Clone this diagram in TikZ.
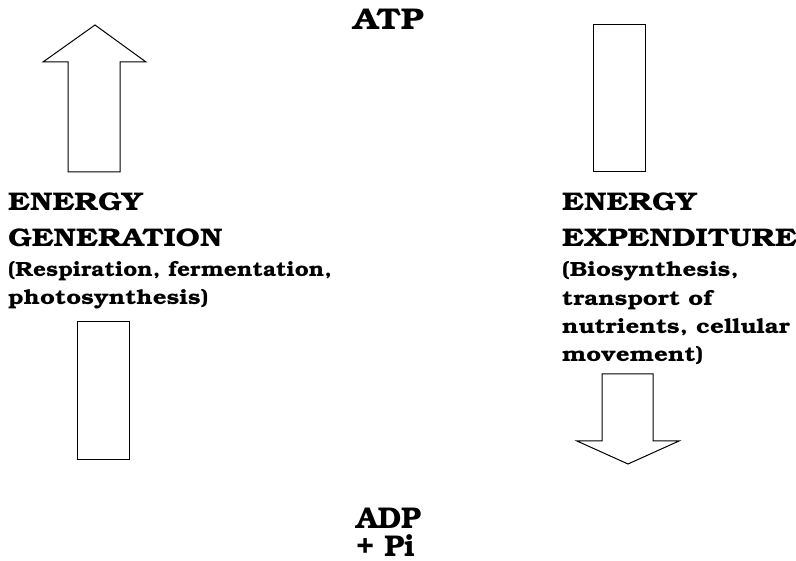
\documentclass[tikz,border=0pt]{standalone}
\usepackage[T1]{fontenc}
\usepackage{bookman}
\usepackage{graphicx}
\newcommand{\wideBig}[1]{\scalebox{1.19}[1]{#1}}
\newcommand{\wideSmall}[1]{\scalebox{1.18}[1]{#1}}
\newcommand{\wideNarrow}[1]{\scalebox{1.11}[1]{#1}}
\newcommand{\wideTop}[1]{\scalebox{1.15}[1]{#1}}
\begin{document}
\begin{tikzpicture}[x=1pt,y=-1pt,
  shapeline/.style={draw=black,line width=1pt,line join=miter},
  bigtxt/.style={anchor=base west,inner sep=0pt,font=\fontsize{25.5}{30}\selectfont\bfseries},
  smalltxt/.style={anchor=base west,inner sep=0pt,font=\fontsize{20.5}{24}\selectfont\bfseries},
  toptxt/.style={anchor=base west,inner sep=0pt,font=\fontsize{30}{34}\selectfont\bfseries}]
\useasboundingbox (0,0) rectangle (796,561);
% shapes
\draw[shapeline] (95,25) -- (146,62) -- (120,62) -- (120,172) -- (68,172) -- (68,62) -- (43,62) -- cycle;
\draw[shapeline] (593,25) rectangle (645,172);
\draw[shapeline] (77,322) rectangle (129,460);
\draw[shapeline] (602,374) -- (653,374) -- (653,441) -- (679,441) -- (628,464) -- (577,441) -- (602,441) -- cycle;
% texts
\node[toptxt] (atp) at (353,30) {\wideTop{ATP}};
\node[toptxt] (adp) at (356,528) {ADP};
\node[toptxt] (pi) at (356,556) {+ Pi};
\node[bigtxt] (eg1) at (8,211) {\wideBig{ENERGY}};
\node[bigtxt] (eg2) at (8,246.5) {\wideBig{GENERATION}};
\node[smalltxt] (eg3) at (8,277) {\wideNarrow{(Respiration, fermentation,}};
\node[smalltxt] (eg4) at (8,305) {\wideSmall{photosynthesis)}};
\node[bigtxt] (ee1) at (562,211) {\wideBig{ENERGY}};
\node[bigtxt] (ee2) at (562,246.5) {\wideBig{EXPENDITURE}};
\node[smalltxt] (ee3) at (562,277) {\wideSmall{(Biosynthesis,}};
\node[smalltxt] (ee4) at (562,305.5) {\wideSmall{transport of}};
\node[smalltxt] (ee5) at (562,334) {\wideSmall{nutrients, cellular}};
\node[smalltxt] (ee6) at (562,362) {\wideSmall{movement)}};
\end{tikzpicture}
\end{document}
